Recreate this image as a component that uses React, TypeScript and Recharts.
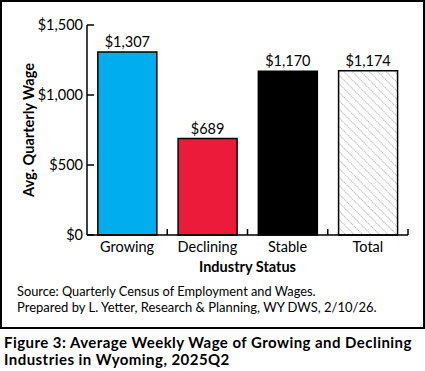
import React from 'react';
import { BarChart, Bar, XAxis, YAxis, Cell, LabelList } from 'recharts';

const categories = ['Growing', 'Declining', 'Stable', 'Total'];
const wages = [1307, 689, 1170, 1174];
const yTicks = [0, 500, 1000, 1500];
const barFills = ['#00AEEF', '#ED1B3A', '#000000', 'url(#hatch)'];

const data = categories.map((c, i) => ({ name: c, wage: wages[i] }));

const FONT = 'Lato, "Open Sans", sans-serif';
const fmt = (v: number) => '$' + v.toLocaleString('en-US');

const PLOT_W = 321;
const BAND = PLOT_W / categories.length;

const YTick = (props: any) => {
  const { x, y, payload } = props;
  return (
    <g>
      <text x={x} y={y} dy={5} textAnchor="end" fontSize={14.5} fontFamily={FONT} fill="#000">
        {fmt(payload.value)}
      </text>
      <line x1={x + 4} x2={x + 11} y1={y} y2={y} stroke="#000" strokeWidth={1.5} />
    </g>
  );
};

const XTick = (props: any) => {
  const { x, y, payload } = props;
  return (
    <g>
      <text x={x} y={y} dy={15} textAnchor="middle" fontSize={14.5} fontFamily={FONT} fill="#000">
        {payload.value}
      </text>
      <line x1={x + BAND / 2} x2={x + BAND / 2} y1={y - 2} y2={y - 8} stroke="#000" strokeWidth={1.5} />
    </g>
  );
};

const captionStyle: React.CSSProperties = {
  position: 'absolute',
  left: 4,
  fontSize: 15,
  lineHeight: '16px',
  letterSpacing: '0.45px',
  fontWeight: 700,
  color: '#000',
  whiteSpace: 'nowrap',
};

export default function App() {
  return (
    <div style={{ position: 'absolute', left: 0, top: 0, width: 425, height: 371, background: '#fff', fontFamily: FONT }}>
      <svg width={0} height={0} style={{ position: 'absolute' }}>
        <defs>
          <pattern id="hatch" patternUnits="userSpaceOnUse" width={6} height={6} patternTransform="rotate(-45)">
            <rect width={6} height={6} fill="#fff" />
            <line x1={0} y1={0} x2={0} y2={6} stroke="#888" strokeWidth={1.2} strokeDasharray="1.2 0.8" />
          </pattern>
        </defs>
      </svg>
      <div style={{ position: 'absolute', left: 0, top: 0, width: 421, height: 325, border: '2px solid #000' }} />
      <div style={{ position: 'absolute', left: 0, top: 0 }}>
        <BarChart
          width={425}
          height={329}
          data={data}
          margin={{ top: 25, right: 17, left: 27, bottom: 64 }}
          barCategoryGap="13.5%"
        >
          <XAxis
            dataKey="name"
            axisLine={{ stroke: '#000', strokeWidth: 1.5 }}
            tickLine={false}
            tick={<XTick />}
            tickSize={0}
            tickMargin={2}
            height={30}
            label={{ value: 'Industry Status', position: 'insideBottom', offset: -7, fontSize: 14.5, fontWeight: 700, fontFamily: FONT, fill: '#000' } as any}
          />
          <YAxis
            domain={[0, 1500]}
            ticks={yTicks}
            width={60}
            axisLine={{ stroke: '#000', strokeWidth: 1.5 }}
            tickLine={false}
            tickSize={0}
            tickMargin={4}
            tick={<YTick />}
            label={{ value: 'Avg. Quarterly Wage', angle: -90, position: 'insideLeft', offset: 2, fontSize: 14.5, fontWeight: 700, fontFamily: FONT, fill: '#000', style: { textAnchor: 'middle' } } as any}
          />
          <Bar dataKey="wage" stroke="#000" strokeWidth={1.5} isAnimationActive={false}>
            {data.map((d, i) => (
              <Cell key={d.name} fill={barFills[i]} />
            ))}
            <LabelList dataKey="wage" position="top" offset={5} formatter={(v: any) => fmt(v)} fontSize={14.5} fontFamily={FONT} fill="#000" />
          </Bar>
        </BarChart>
      </div>
      <div style={{ position: 'absolute', left: 17, top: 284, fontSize: 12.8, lineHeight: '15px', color: '#000', whiteSpace: 'nowrap' }}>
        Source: Quarterly Census of Employment and Wages.
      </div>
      <div style={{ position: 'absolute', left: 17, top: 299, fontSize: 13, lineHeight: '16px', color: '#000', whiteSpace: 'nowrap' }}>
        Prepared by L. Yetter, Research &amp; Planning, WY DWS, 2/10/26.
      </div>
      <div style={{ ...captionStyle, top: 334 }}>
        Figure 3: Average Weekly Wage of Growing and Declining
      </div>
      <div style={{ ...captionStyle, top: 351 }}>
        Industries in Wyoming, 2025Q2
      </div>
    </div>
  );
}
